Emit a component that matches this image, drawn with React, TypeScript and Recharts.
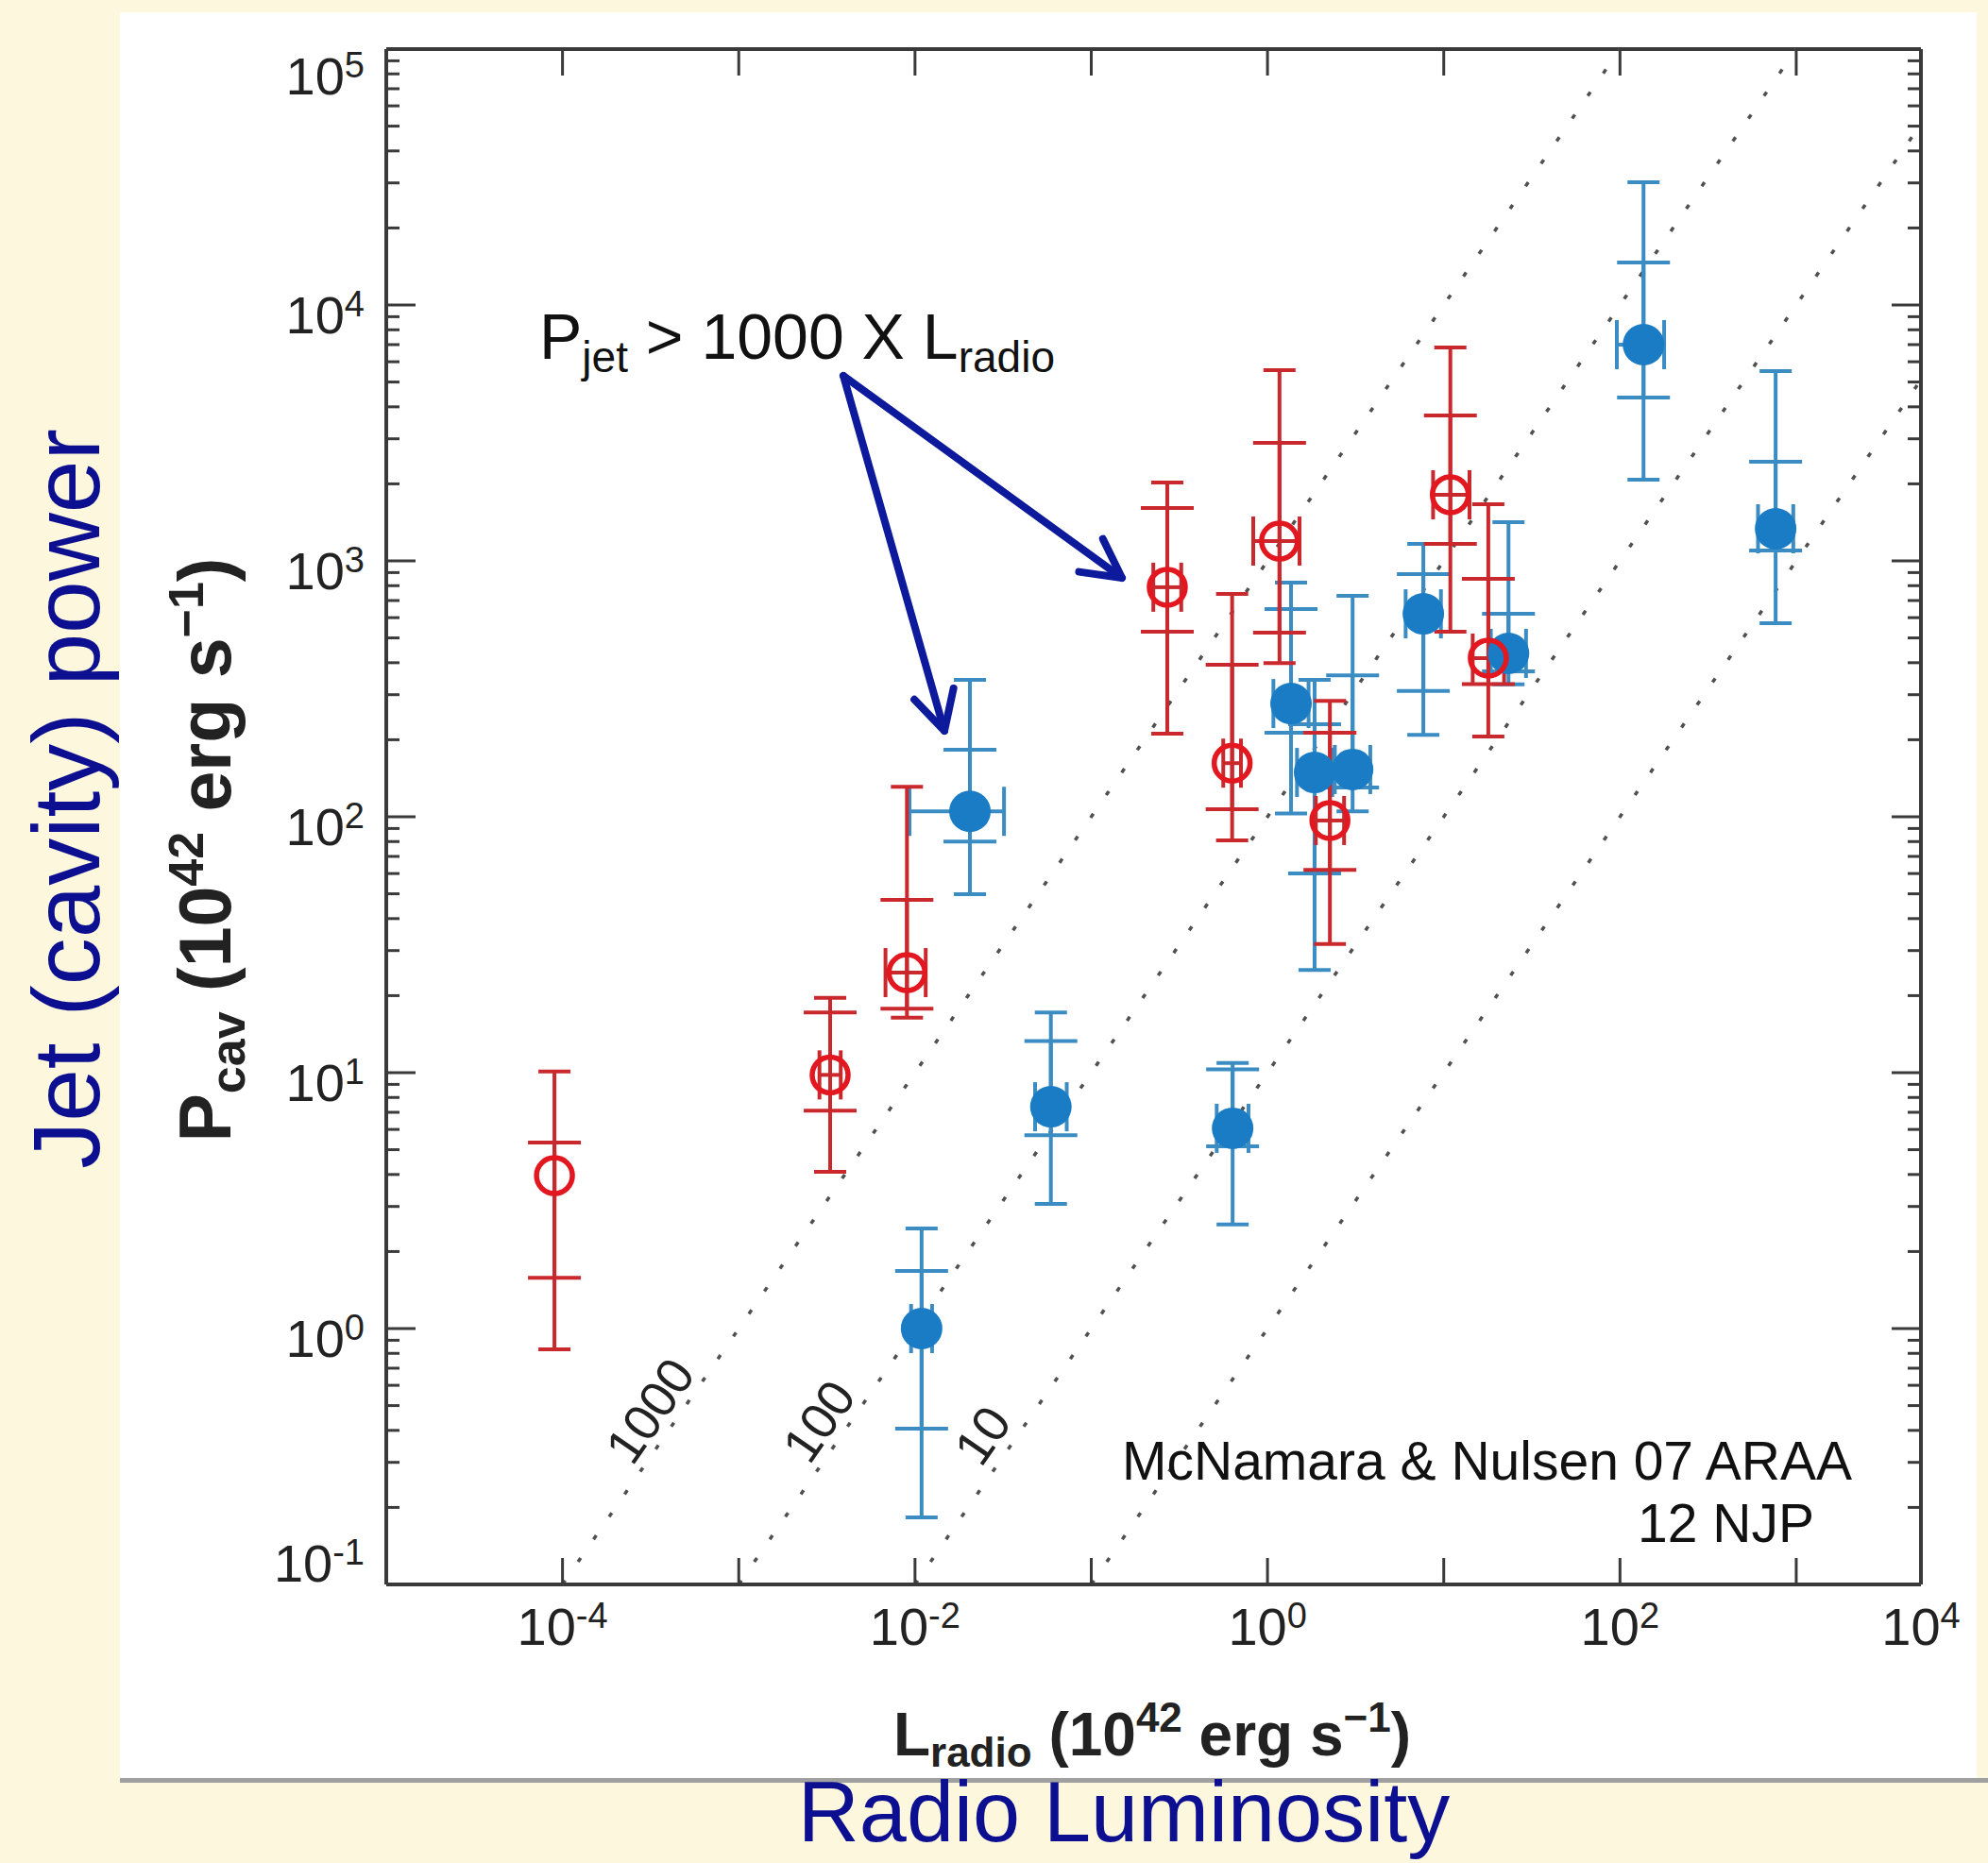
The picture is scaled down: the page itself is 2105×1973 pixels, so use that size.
import React from 'react';
import { ScatterChart, Scatter, XAxis, YAxis, ErrorBar, ReferenceLine, ReferenceDot } from 'recharts';

// ---------- axes ----------
const X_MIN = 1e-5;
const X_MAX = 5100;
const Y_MIN = 0.1;
const Y_MAX = 1e5;

const xTickValues = [1e-4, 1e-3, 1e-2, 1e-1, 1, 10, 100, 1000, X_MAX];
const xTickLabels = ['-4', '', '-2', '', '0', '', '2', '', '4'];
const yMajor = [0.1, 1, 10, 100, 1000, 1e4, 1e5];
const yTickLabels = ['-1', '0', '1', '2', '3', '4', '5'];
const minorSteps = [2, 3, 4, 5, 6, 7, 8, 9];

// ---------- red open circles (L_radio, P_cav) ----------
const redL = [9.0e-5, 0.0033, 0.009, 0.27, 0.63, 1.17, 2.26, 10.9, 17.9];
const redP = [3.96, 9.8, 24.6, 789, 162, 1195, 96.7, 1813, 417];
const redOuterLo = [0.83, 4.1, 16.4, 211, 80.9, 399, 31.8, 529, 206];
const redOuterHi = [10.1, 19.6, 131, 2025, 743, 5560, 284, 6820, 1665];
const redInnerLo = [1.58, 7.1, 17.8, 529, 107, 524, 62, 1165, 330];
const redInnerHi = [5.33, 17.2, 47.3, 1610, 393, 2890, 213, 3700, 851];
const redLLo = [9.0e-5, 0.00287, 0.0068, 0.225, 0.561, 0.83, 1.88, 8.7, 14.6];
const redLHi = [9.0e-5, 0.00379, 0.0115, 0.324, 0.707, 1.52, 2.72, 14.0, 22.0];

// ---------- blue filled circles ----------
const blueL = [0.0205, 0.059, 0.0109, 0.634, 1.36, 1.85, 3.04, 7.66, 23.3, 136, 764];
const blueP = [105, 7.36, 1.0, 6.06, 277, 149, 153, 621, 435, 7000, 1335];
const blueOuterLo = [49.8, 3.07, 0.183, 2.55, 103, 25.2, 105, 209, 329, 2077, 571];
const blueOuterHi = [343, 17.2, 2.46, 10.9, 822, 343, 730, 1165, 1417, 30200, 5520];
const blueInnerLo = [80, 5.7, 0.406, 5.15, 213, 60, 130, 310, 370, 4350, 1097];
const blueInnerHi = [183, 13.3, 1.68, 10.3, 648, 230, 357, 888, 621, 14650, 2440];
const blueLLo = [0.0093, 0.048, 0.0095, 0.515, 1.08, 1.47, 2.41, 6.08, 18.5, 96, 607];
const blueLHi = [0.032, 0.0726, 0.0125, 0.78, 1.71, 2.33, 3.83, 9.64, 29.3, 178, 962];

// ---------- ratio lines P = k * L ----------
const ratioValues = [1000, 100, 10, 1];
const ratioLabelText = ['1000', '100', '10'];
const ratioLabelL = [3.13e-4, 2.84e-3, 2.41e-2];
const ratioLabelP = [0.478, 0.435, 0.383];

const build = (L: number[], P: number[], oLo: number[], oHi: number[], iLo: number[], iHi: number[], lLo: number[], lHi: number[]) =>
  L.map((x, i) => ({
    x,
    y: P[i],
    eyOuter: [P[i] - oLo[i], oHi[i] - P[i]],
    eyInner: [P[i] - iLo[i], iHi[i] - P[i]],
    ex: [x - lLo[i], lHi[i] - x],
  }));

const redData = build(redL, redP, redOuterLo, redOuterHi, redInnerLo, redInnerHi, redLLo, redLHi);
const blueData = build(blueL, blueP, blueOuterLo, blueOuterHi, blueInnerLo, blueInnerHi, blueLLo, blueLHi);

const yTicks: number[] = [];
yMajor.forEach((d, i) => {
  yTicks.push(d);
  if (i < yMajor.length - 1) minorSteps.forEach((m) => yTicks.push(d * m));
});

// ---------- layout ----------
const W = 2105;
const H = 1973;
const PLOT = { left: 409, top: 52, right: 2034, bottom: 1678 };
const PLOT_W = PLOT.right - PLOT.left;
const PLOT_H = PLOT.bottom - PLOT.top;
const FONT = '"Liberation Sans", Arial, Helvetica, sans-serif';
const AXIS = '#3a3a3a';
const NAVY = '#0c0f8f';
const RED = '#e2171f';
const RED_BAR = '#c9282c';
const BLUE = '#1a7cc4';
const BLUE_BAR = '#3a8cc2';

const sameLog = (a: number, b: number) => Math.abs(Math.log10(a) - Math.log10(b)) < 1e-6;

const XTick = (props: any) => {
  const { x, y, payload } = props;
  const v = payload.value;
  const idx = xTickValues.findIndex((t) => sameLog(t, v));
  const isEdge = sameLog(v, X_MAX);
  const label = idx >= 0 ? xTickLabels[idx] : '';
  return (
    <g>
      {!isEdge && <line x1={x} y1={y} x2={x} y2={y - 28} stroke={AXIS} strokeWidth={3} />}
      {!isEdge && <line x1={x} y1={y - PLOT_H} x2={x} y2={y - PLOT_H + 28} stroke={AXIS} strokeWidth={3} />}
      {label !== '' && (
        <text x={x} y={y + 64} textAnchor="middle" fontSize={56} fontFamily={FONT} fill="#222">
          <tspan>10</tspan>
          <tspan dy={-18} fontSize={38}>{label}</tspan>
        </text>
      )}
    </g>
  );
};

const YTick = (props: any) => {
  const { x, y, payload } = props;
  const v = payload.value;
  const idx = yMajor.findIndex((t) => sameLog(t, v));
  const len = idx >= 0 ? 31 : 14;
  let dy = 30;
  if (idx === yMajor.length - 1) dy = 48;
  if (idx === 0) dy = -3;
  return (
    <g>
      <line x1={x} y1={y} x2={x + len} y2={y} stroke={AXIS} strokeWidth={3} />
      <line x1={x + PLOT_W} y1={y} x2={x + PLOT_W - len} y2={y} stroke={AXIS} strokeWidth={3} />
      {idx >= 0 && (
        <text x={x - 23} y={y + dy} textAnchor="end" fontSize={56} fontFamily={FONT} fill="#222">
          <tspan>10</tspan>
          <tspan dy={-18} fontSize={38}>{yTickLabels[idx]}</tspan>
        </text>
      )}
    </g>
  );
};

const RedRing = (p: any) => <circle cx={p.cx} cy={p.cy} r={19} fill="none" stroke={RED} strokeWidth={5.5} />;
const BlueDisc = (p: any) => <circle cx={p.cx} cy={p.cy} r={22} fill={BLUE} />;

const arrowHead = (sx: number, sy: number, tx: number, ty: number, len = 46, ang = 28) => {
  const a = Math.atan2(ty - sy, tx - sx);
  const r = (ang * Math.PI) / 180;
  const p1 = [tx - len * Math.cos(a - r), ty - len * Math.sin(a - r)];
  const p2 = [tx - len * Math.cos(a + r), ty - len * Math.sin(a + r)];
  return `${p1[0]},${p1[1]} ${tx},${ty} ${p2[0]},${p2[1]}`;
};

const ARROW_START = [893, 398];
const ARROW_TIPS = [
  [1188, 612],
  [1000, 774],
];

export default function App() {
  return (
    <div style={{ position: 'absolute', left: 0, top: 0, width: W, height: H, background: '#fdf7de', overflow: 'hidden' }}>
      <div style={{ position: 'absolute', left: 127, top: 13, width: 1966, height: 1871, background: '#ffffff' }} />
      <div style={{ position: 'absolute', left: 127, top: 1883, width: W - 127, height: 5, background: '#a0a0a0' }} />
      <div style={{ position: 'absolute', left: 0, top: 0 }}>
        <ScatterChart
          width={W}
          height={H}
          margin={{ top: PLOT.top, left: PLOT.left - 100, right: W - PLOT.right, bottom: H - PLOT.bottom - 100 }}
        >
          <XAxis
            type="number"
            dataKey="x"
            scale="log"
            domain={[X_MIN, X_MAX]}
            allowDataOverflow
            ticks={xTickValues}
            interval={0}
            tick={<XTick />}
            tickLine={false}
            tickSize={0}
            tickMargin={0}
            height={100}
            axisLine={{ stroke: AXIS, strokeWidth: 4 }}
          />
          <YAxis
            type="number"
            dataKey="y"
            scale="log"
            domain={[Y_MIN, Y_MAX]}
            allowDataOverflow
            ticks={yTicks}
            interval={0}
            tick={<YTick />}
            tickLine={false}
            tickSize={0}
            tickMargin={0}
            width={100}
            axisLine={{ stroke: AXIS, strokeWidth: 4 }}
          />
          <ReferenceLine y={Y_MAX} stroke={AXIS} strokeWidth={4} ifOverflow="visible" />
          <ReferenceLine x={X_MAX} stroke={AXIS} strokeWidth={4} ifOverflow="visible" />
          {ratioValues.map((k) => {
            const x1 = Math.max(X_MIN, Y_MIN / k);
            const x2 = Math.min(X_MAX, Y_MAX / k);
            return (
              <ReferenceLine
                key={k}
                segment={[
                  { x: x1, y: k * x1 },
                  { x: x2, y: k * x2 },
                ]}
                stroke="#505050"
                strokeWidth={3.5}
                strokeDasharray="5 24"
                ifOverflow="visible"
              />
            );
          })}
          {ratioLabelText.map((t, i) => (
            <ReferenceDot
              key={t}
              x={ratioLabelL[i]}
              y={ratioLabelP[i]}
              r={0}
              ifOverflow="visible"
              shape={(p: any) => (
                <text
                  x={p.cx}
                  y={p.cy}
                  transform={`rotate(-55.4, ${p.cx}, ${p.cy})`}
                  textAnchor="middle"
                  dominantBaseline="central"
                  fontSize={54}
                  fontFamily={FONT}
                  fill="#222"
                >
                  {t}
                </text>
              )}
            />
          ))}
          <Scatter data={blueData} dataKey="y" shape={BlueDisc} isAnimationActive={false}>
            <ErrorBar dataKey="eyOuter" direction="y" width={17} stroke={BLUE_BAR} strokeWidth={4} isAnimationActive={false} />
            <ErrorBar dataKey="eyInner" direction="y" width={28} stroke={BLUE_BAR} strokeWidth={4} isAnimationActive={false} />
            <ErrorBar dataKey="ex" direction="x" width={26} stroke={BLUE_BAR} strokeWidth={4} isAnimationActive={false} />
          </Scatter>
          <Scatter data={redData} dataKey="y" shape={RedRing} isAnimationActive={false}>
            <ErrorBar dataKey="eyOuter" direction="y" width={17} stroke={RED_BAR} strokeWidth={4} isAnimationActive={false} />
            <ErrorBar dataKey="eyInner" direction="y" width={28} stroke={RED_BAR} strokeWidth={4} isAnimationActive={false} />
            <ErrorBar dataKey="ex" direction="x" width={26} stroke={RED_BAR} strokeWidth={4} isAnimationActive={false} />
          </Scatter>
        </ScatterChart>
      </div>
      <svg width={W} height={H} style={{ position: 'absolute', left: 0, top: 0, pointerEvents: 'none' }}>
        {/* outer slide titles */}
        <text transform="translate(105, 846) rotate(-90)" textAnchor="middle" fontSize={100} fontFamily={FONT} fill={NAVY}>
          Jet (cavity) power
        </text>
        <text x={1190} y={1950} textAnchor="middle" fontSize={90} fontFamily={FONT} fill={NAVY}>
          Radio Luminosity
        </text>
        {/* axis titles */}
        <text transform="translate(244, 900) rotate(-90)" textAnchor="middle" fontSize={77} fontWeight="bold" fontFamily={FONT} fill="#222">
          <tspan>P</tspan>
          <tspan dy={15} fontSize={52}>cav</tspan>
          <tspan dy={-15}> (10</tspan>
          <tspan dy={-29} fontSize={52}>42</tspan>
          <tspan dy={29}> erg s</tspan>
          <tspan dy={-29} fontSize={52}>−1</tspan>
          <tspan dy={29}>)</tspan>
        </text>
        <text x={1220} y={1859} textAnchor="middle" fontSize={64} fontWeight="bold" fontFamily={FONT} fill="#222">
          <tspan>L</tspan>
          <tspan dy={12} fontSize={44}>radio</tspan>
          <tspan dy={-12}> (10</tspan>
          <tspan dy={-25} fontSize={44}>42</tspan>
          <tspan dy={25}> erg s</tspan>
          <tspan dy={-25} fontSize={44}>−1</tspan>
          <tspan dy={25}>)</tspan>
        </text>
        {/* annotation */}
        <text x={571} y={380} fontSize={68} fontFamily={FONT} fill="#111">
          <tspan>P</tspan>
          <tspan dy={14} fontSize={46}>jet</tspan>
          <tspan dy={-14}> &gt; 1000 X L</tspan>
          <tspan dy={14} fontSize={46}>radio</tspan>
        </text>
        {ARROW_TIPS.map(([tx, ty], i) => (
          <g key={i} stroke="#0e1a9c" strokeWidth={8} fill="none" strokeLinecap="round" strokeLinejoin="round">
            <line x1={ARROW_START[0]} y1={ARROW_START[1]} x2={tx} y2={ty} />
            <polyline points={arrowHead(ARROW_START[0], ARROW_START[1], tx, ty)} />
          </g>
        ))}
        {/* credit */}
        <text x={1188} y={1567} fontSize={57} fontFamily={FONT} fill="#111">
          McNamara &amp; Nulsen 07 ARAA
        </text>
        <text x={1734} y={1633} fontSize={57} fontFamily={FONT} fill="#111">
          12 NJP
        </text>
      </svg>
    </div>
  );
}
